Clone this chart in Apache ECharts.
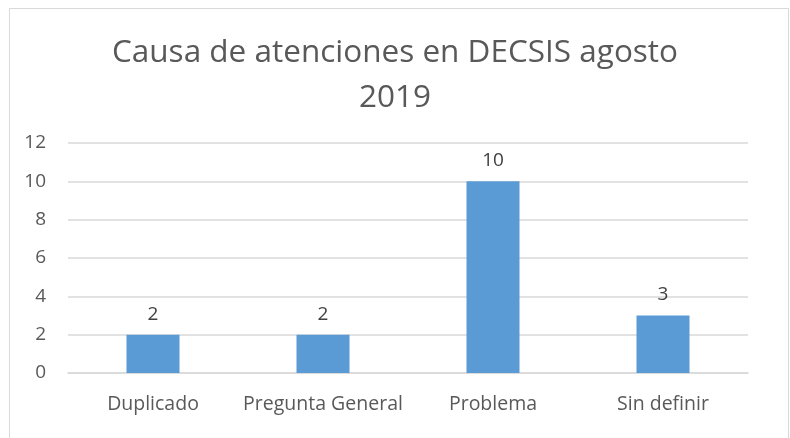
<!DOCTYPE html>
<html>
<head>
<meta charset="utf-8">
<script src="https://cdn.jsdelivr.net/npm/echarts@6/dist/echarts.min.js"></script>
<style>
  html, body { margin: 0; padding: 0; background: #fff; }
  #demo { width: 790px; height: 438px; }
</style>
</head>
<body>
<div id="demo"></div>
<script>
var categories = ['Duplicado', 'Pregunta General', 'Problema', 'Sin definir'];
var values = [2, 2, 10, 3];
var yTicks = [0, 2, 4, 6, 8, 10, 12];

window.onload = function() {
    var myChart = echarts.init(document.getElementById('demo'));
    var font = '"Open Sans", sans-serif';
    var option = {
        backgroundColor: '#fff',
        animation: false,
        title: {
            text: 'Causa de atenciones en DECSIS agosto\n2019',
            left: 'center',
            top: 26,
            textStyle: {
                fontFamily: font,
                fontSize: 31.5,
                fontWeight: 'normal',
                color: '#595959',
                lineHeight: 45
            }
        },
        graphic: [{
            type: 'rect',
            shape: { x: 9.5, y: 8.5, width: 779, height: 440 },
            style: { fill: 'none', stroke: '#d9d9d9', lineWidth: 1 },
            silent: true
        }],
        grid: {
            left: 68,
            right: 42,
            top: 143,
            bottom: 65
        },
        xAxis: {
            type: 'category',
            data: categories,
            axisTick: { show: false },
            axisLine: { lineStyle: { color: '#d9d9d9', width: 1.5 } },
            axisLabel: {
                interval: 0,
                fontFamily: font,
                fontSize: 19.5,
                color: '#595959',
                margin: 21
            }
        },
        yAxis: {
            type: 'value',
            min: yTicks[0],
            max: yTicks[yTicks.length - 1],
            interval: 2,
            axisLine: { show: false },
            axisTick: { show: false },
            splitLine: { lineStyle: { color: '#d9d9d9', width: 1.5 } },
            axisLabel: {
                fontFamily: font,
                fontSize: 19,
                color: '#595959',
                margin: 22
            }
        },
        series: [{
            type: 'bar',
            data: values,
            barWidth: 53,
            itemStyle: { color: '#5b9bd5' },
            label: {
                show: true,
                position: 'top',
                distance: 11,
                fontFamily: font,
                fontSize: 19,
                color: '#404040'
            }
        }]
    };
    myChart.setOption(option);
};
</script>
</body>
</html>
